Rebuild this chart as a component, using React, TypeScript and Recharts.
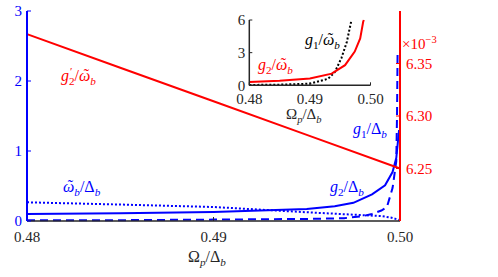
import React from "react"
import { LineChart, Line, XAxis, YAxis } from "recharts"

const xTicks = [0.48, 0.49, 0.5]
const leftTicks = [0, 1, 2, 3]
const rightTicks = [6.25, 6.3, 6.35]
const insetTicks = [0, 3, 6]

// g2'/w_b, right axis (x1e-3)
const g2pX = [0.48, 0.485, 0.49, 0.495, 0.5]
const g2pY = [6.378, 6.346, 6.314, 6.282, 6.25]

// g2/Delta_b, solid blue
const g2X = [0.48, 0.485, 0.49, 0.4925, 0.495, 0.4965, 0.4975, 0.4985, 0.4992, 0.4996, 0.4998, 0.49995]
const g2Y = [0.1, 0.11, 0.13, 0.15, 0.17, 0.21, 0.26, 0.38, 0.51, 0.7, 0.9, 1.3]

// g1/Delta_b, dashed blue
const g1X = [0.48, 0.485, 0.49, 0.495, 0.497, 0.498, 0.4985, 0.499, 0.4993, 0.4996, 0.4998, 0.49984, 0.49987]
const g1Y = [0.01, 0.012, 0.02, 0.03, 0.04, 0.07, 0.1, 0.15, 0.2, 0.47, 0.85, 1.5, 2.4]

// w_b/Delta_b, dotted blue
const wX = [0.48, 0.485, 0.49, 0.495, 0.4975, 0.499, 0.4995, 0.4999, 0.5]
const wY = [0.267, 0.235, 0.2, 0.125, 0.09, 0.07, 0.05, 0.02, 0.01]

// inset: g2/w_b (red) and g1/w_b (black dotted)
const inG2X = [0.48, 0.485, 0.49, 0.4936, 0.4958, 0.4974, 0.4983, 0.4988, 0.4989]
const inG2Y = [0.3, 0.42, 0.62, 1.07, 1.85, 3.1, 4.3, 5.85, 6]
const inG1X = [0.48, 0.485, 0.49, 0.493, 0.4941, 0.4952, 0.4961, 0.4968, 0.49685]
const inG1Y = [0.03, 0.06, 0.15, 0.6, 1.2, 2.5, 4.0, 5.85, 6]

const zip = (xs: number[], ys: number[]) => xs.map((x, i) => ({ x, y: ys[i] }))

const BLUE = "#0000ff"
const RED = "#ff0000"
const DARK = "#262626"
const FONT = "'Times New Roman', 'Liberation Serif', serif"

const tickStyle = (fill: string) => ({ fill, fontSize: 15, fontFamily: FONT })
const fmt2 = (v: number) => v.toFixed(2)

type Seg = { t: string; i?: boolean; sub?: boolean; sup?: boolean; tilde?: boolean; dx?: number }

// tiny TeX-ish label: italics, sub/superscripts, tilde accents
function Tex({ x, y, fill, segs, size = 16 }: { x: number; y: number; fill: string; segs: Seg[]; size?: number }) {
  const out: React.ReactNode[] = []
  let level = 0
  let pendDx = 0
  segs.forEach((s, k) => {
    const target = s.sub ? size * 0.28 : s.sup ? -size * 0.4 : 0
    const dy = target - level
    level = target
    const fs = s.sub || s.sup ? size * 0.7 : size
    out.push(
      <tspan key={k} dx={pendDx + (s.dx ?? 0)} dy={dy} fontSize={fs} fontStyle={s.i ? "italic" : "normal"}>
        {s.t}
      </tspan>
    )
    pendDx = 0
    if (s.tilde) {
      const w = fs * 0.667
      const tw = fs * 0.333
      out.push(
        <tspan key={k + "t"} dx={-(w / 2 + tw / 2) + 1.5} dy={-1} fontSize={fs}>
          ˜
        </tspan>
      )
      level -= 1
      pendDx = w / 2 - tw / 2 - 1.5
    }
  })
  return (
    <text x={x} y={y} fill={fill} fontFamily={FONT} fontSize={size}>
      {out}
    </text>
  )
}

const lblG2p: Seg[] = [{ t: "g", i: true }, { t: "′", sup: true, dx: 1 }, { t: "2", sub: true, dx: -3.5 }, { t: "/" }, { t: "ω", i: true, tilde: true }, { t: "b", i: true, sub: true }]
const lblW: Seg[] = [{ t: "ω", i: true, tilde: true }, { t: "b", i: true, sub: true }, { t: "/Δ" }, { t: "b", i: true, sub: true }]
const lblG2: Seg[] = [{ t: "g", i: true }, { t: "2", sub: true }, { t: "/Δ" }, { t: "b", i: true, sub: true }]
const lblG1: Seg[] = [{ t: "g", i: true }, { t: "1", sub: true }, { t: "/Δ" }, { t: "b", i: true, sub: true }]
const lblX: Seg[] = [{ t: "Ω" }, { t: "p", i: true, sub: true }, { t: "/Δ" }, { t: "b", i: true, sub: true }]
const lblInG1: Seg[] = [{ t: "g", i: true }, { t: "1", sub: true }, { t: "/" }, { t: "ω", i: true, tilde: true }, { t: "b", i: true, sub: true }]
const lblInG2: Seg[] = [{ t: "g", i: true }, { t: "2", sub: true }, { t: "/" }, { t: "ω", i: true, tilde: true }, { t: "b", i: true, sub: true }]
const lblExp: Seg[] = [{ t: "×10" }, { t: "−3", sup: true }]

export default function App() {
  return (
    <div style={{ position: "absolute", left: 0, top: 0, width: 498, height: 277, background: "#fff", fontFamily: FONT }}>
      <LineChart width={498} height={277} margin={{ top: 11, right: 38, bottom: 0, left: 0 }}>
        <XAxis
          type="number"
          dataKey="x"
          domain={[0.48, 0.5]}
          ticks={xTicks}
          tickFormatter={fmt2}
          height={56}
          stroke={DARK}
          axisLine={{ stroke: DARK, strokeWidth: 1.5 }}
          tickSize={-4}
          tickMargin={14}
          tick={tickStyle(DARK)}
        />
        <XAxis
          xAxisId="top"
          orientation="top"
          type="number"
          dataKey="x"
          domain={[0.48, 0.5]}
          ticks={xTicks}
          height={0}
          stroke={DARK}
          axisLine={{ stroke: DARK, strokeWidth: 1.5 }}
          tickSize={-4}
          tick={false}
        />
        <YAxis
          domain={[0, 3]}
          ticks={leftTicks}
          width={27}
          stroke={BLUE}
          axisLine={{ stroke: BLUE, strokeWidth: 2 }}
          tickSize={-4}
          tickMargin={9}
          tick={tickStyle(BLUE)}
        />
        <YAxis
          yAxisId="right"
          orientation="right"
          domain={[6.2, 6.4]}
          ticks={rightTicks}
          tickFormatter={fmt2}
          width={60}
          stroke={RED}
          axisLine={{ stroke: RED, strokeWidth: 2 }}
          tickSize={-4}
          tickMargin={10}
          tick={tickStyle(RED)}
        />
        <Line data={zip(g1X, g1Y)} dataKey="y" stroke={BLUE} strokeWidth={2} strokeDasharray="8 5" dot={false} activeDot={false} isAnimationActive={false} />
        <Line data={zip(wX, wY)} dataKey="y" stroke={BLUE} strokeWidth={2} strokeDasharray="2 2" dot={false} activeDot={false} isAnimationActive={false} />
        <Line data={zip(g2X, g2Y)} dataKey="y" stroke={BLUE} strokeWidth={2} dot={false} activeDot={false} isAnimationActive={false} />
        <Line yAxisId="right" data={zip(g2pX, g2pY)} dataKey="y" stroke={RED} strokeWidth={2} dot={false} activeDot={false} isAnimationActive={false} />
      </LineChart>

      {/* inset */}
      <div style={{ position: "absolute", left: 215, top: 10 }}>
        <LineChart width={170} height={115} margin={{ top: 10, right: 14.5, bottom: 0, left: 0 }}>
          <XAxis
            type="number"
            dataKey="x"
            domain={[0.48, 0.5]}
            ticks={xTicks}
            tickFormatter={fmt2}
            height={39.7}
            stroke={DARK}
            axisLine={{ stroke: DARK, strokeWidth: 1.5 }}
            tickSize={-3}
            tickMargin={11}
            tick={tickStyle(DARK)}
          />
          <XAxis
            xAxisId="top"
            orientation="top"
            type="number"
            dataKey="x"
            domain={[0.48, 0.5]}
            ticks={xTicks}
            height={0}
            stroke={DARK}
            axisLine={{ stroke: DARK, strokeWidth: 1.5 }}
            tickSize={-3}
            tick={false}
          />
          <YAxis
            domain={[0, 6]}
            ticks={insetTicks}
            width={34.3}
            stroke={DARK}
            axisLine={{ stroke: DARK, strokeWidth: 1.5 }}
            tickSize={-3}
            tickMargin={7}
            tick={tickStyle(DARK)}
          />
          <YAxis
            yAxisId="r"
            orientation="right"
            domain={[0, 6]}
            ticks={insetTicks}
            width={0}
            stroke={DARK}
            axisLine={{ stroke: DARK, strokeWidth: 1.5 }}
            tickSize={-3}
            tick={false}
          />
          <Line data={zip(inG1X, inG1Y)} dataKey="y" stroke="#000" strokeWidth={2} strokeDasharray="2 2" dot={false} activeDot={false} isAnimationActive={false} />
          <Line data={zip(inG2X, inG2Y)} dataKey="y" stroke={RED} strokeWidth={2} dot={false} activeDot={false} isAnimationActive={false} />
        </LineChart>
      </div>

      {/* text annotations */}
      <svg width={498} height={277} style={{ position: "absolute", left: 0, top: 0, pointerEvents: "none" }}>
        <Tex x={61} y={81} fill={RED} segs={lblG2p} />
        <Tex x={63} y={192} fill={BLUE} segs={lblW} />
        <Tex x={330} y={192} fill={BLUE} segs={lblG2} />
        <Tex x={353} y={134} fill={BLUE} segs={lblG1} />
        <Tex x={188} y={262} fill={DARK} segs={lblX} />
        <Tex x={286} y={119} fill={DARK} segs={lblX} size={15} />
        <Tex x={305} y={45} fill="#000" segs={lblInG1} />
        <Tex x={258} y={70} fill={RED} segs={lblInG2} />
        <Tex x={402} y={49} fill={RED} segs={lblExp} size={15} />
      </svg>
    </div>
  )
}
